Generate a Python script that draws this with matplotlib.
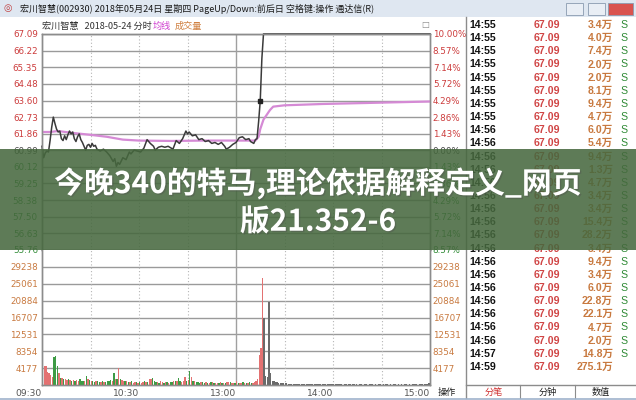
import matplotlib
matplotlib.use("Agg")
import matplotlib.pyplot as plt
from matplotlib.patches import Rectangle
import matplotlib.patheffects as pe

# ---------------- data ----------------
price_ticks = [67.09, 66.22, 65.35, 64.48, 63.60, 62.73, 61.86, 60.99,
               60.12, 59.25, 58.38, 57.50, 56.63, 55.76]
pct_labels = ["10.00%", "8.57%", "7.14%", "5.72%", "4.29%", "2.86%", "1.43%", "0.00%",
              "1.43%", "2.86%", "4.29%", "5.72%", "7.14%", "8.57%"]
prev_close = 60.99
vol_ticks = [4177, 8354, 12531, 16707, 20884, 25061, 29238]
vol_top = 33416
time_ticks = [0, 60, 120, 180, 240]
time_labels = ["09:30", "10:30", "13:00", "14:00", "15:00"]

price_min = [0, 1, 2, 3, 4, 5, 6, 7, 8, 9, 10, 11, 12, 13, 14, 15, 16, 17, 18, 19,
             20, 21, 22, 23, 24, 25, 26, 27, 28, 29, 30, 31, 32, 33, 34, 35, 36, 38,
             40, 42, 44, 45, 46, 47, 48, 50, 52, 54, 55, 57, 59, 61, 63, 65, 67, 69,
             70, 72, 74, 76, 78, 80, 81, 83, 85, 87, 89, 90, 91, 93, 95, 97, 99, 101,
             103, 105, 107, 109, 111, 113, 114, 116, 118, 120, 122, 124, 126, 128,
             129, 131, 132, 133, 134, 135, 136, 137, 240]
price_val = [61.20, 60.60, 60.85, 60.95, 60.90, 61.50, 62.20, 62.73, 62.40, 62.10,
             61.95, 62.00, 61.60, 61.50, 61.75, 61.55, 61.80, 62.00, 61.85, 61.95,
             61.60, 61.45, 61.70, 61.85, 61.55, 61.40, 61.20, 61.00, 61.25, 61.30,
             61.15, 61.35, 61.20, 61.25, 61.05, 61.00, 60.95, 61.05,
             60.90, 60.70, 60.40, 60.55, 60.15, 60.35, 60.25, 60.60, 60.50, 60.90,
             60.80, 61.00, 60.95, 60.90, 61.10, 61.55, 61.35, 61.20,
             61.00, 61.15, 61.20, 61.15, 61.20, 61.10, 61.05, 61.50, 61.35, 61.60,
             62.00, 61.85, 61.95, 61.75, 61.80, 61.55, 61.60, 61.45,
             61.50, 61.35, 61.40, 61.30, 61.40, 61.20, 61.05, 61.15, 61.30, 61.40,
             61.65, 61.70, 61.55, 61.60, 61.45, 61.35, 61.55, 61.60, 62.50, 63.60,
             65.80, 67.09, 67.09]

avg_min = [0, 5, 10, 19, 30, 40, 50, 60, 80, 100, 120, 132, 134, 135, 137, 139,
           141, 143, 150, 174, 200, 240]
avg_val = [61.95, 61.95, 62.00, 61.90, 61.80, 61.70, 61.55, 61.50, 61.48, 61.50,
           61.50, 61.50, 61.70, 62.10, 62.60, 62.85, 63.10, 63.28, 63.35, 63.42,
           63.47, 63.55]

volume = [
    18400, 4700, 4600, 3300, 2900, 2500, 2100, 6900, 7100, 4700, 2900, 1800, 1700, 1500, 1400, 1300, 1500, 1200, 1100, 1300,
    1000, 1200, 900, 1400, 1100, 1000, 900, 2200, 1600, 1200, 1000, 900, 800, 900, 1000, 700, 800, 900, 700, 800,
    900, 1000, 1200, 1100, 2900, 1600, 1500, 4300, 1400, 1200, 1000, 900, 1100, 800, 700, 900, 600, 700, 800, 600,
    700, 600, 800, 900, 700, 800, 1600, 1500, 1700, 1000, 800, 700, 600, 900, 700, 600, 800, 700, 600, 700,
    800, 900, 1100, 1000, 1800, 900, 800, 1100, 2100, 1000, 1200, 3500, 2000, 1100, 900, 800, 700, 600, 800, 700,
    600, 700, 500, 600, 700, 800, 600, 500, 600, 500, 700, 600, 500, 600, 700, 800, 800, 600, 500, 600,
    1000, 500, 600, 500, 700, 600, 500, 600, 700, 500, 600, 800, 900, 1500, 7500, 9200, 26400, 16600, 2200, 2000,
    20500, 2900, 1100, 900, 800, 700, 600, 600, 500, 500, 400, 400, 350, 300, 350, 300, 250, 300, 250, 200,
    250, 200, 200, 250, 200, 150, 200, 250, 200, 150, 200, 200, 150, 200, 150, 200, 250, 150, 200, 150,
    150, 200, 150, 150, 200, 150, 100, 150, 200, 150, 150, 100, 150, 200, 150, 100, 150, 150, 100, 150,
    150, 100, 150, 200, 150, 100, 150, 100, 150, 150, 100, 150, 200, 150, 100, 150, 100, 150, 150, 100,
    150, 100, 150, 100, 150, 150, 100, 150, 100, 150, 200, 150, 100, 150, 150, 200, 150, 200, 250, 400,
]
vol_dir = (
    "grrrrrrgggrgrgrrgrgr"
    "grrgggrgrgrggrggrgrg"
    "gggrgrgrgrrgrgrgrrgr"
    "grrgrgrrgggrgrrgrgrg"
    "grgrggrrrgrgrgrgggrg"
    "grgrgrgrrgrgrgrrgrrg"
    "rgrrgrgrggrrrrrrrkkk"
    "kkkkkkkkkkkkkkkkkkkk"
    "kkkkkkkkkkkkkkkkkkkk"
    "kkkkkkkkkkkkkkkkkkkk"
    "kkkkkkkkkkkkkkkkkkkk"
    "kkkkkkkkkkkkkkkkkkkk"
)

ticks_rows = [
    ("14:55", "67.09", "3.4万", "S"), ("14:55", "67.09", "4.0万", "S"),
    ("14:55", "67.09", "7.4万", "S"), ("14:55", "67.09", "2.0万", "S"),
    ("14:55", "67.09", "2.0万", "S"), ("14:55", "67.09", "8.1万", "S"),
    ("14:55", "67.09", "9.4万", "S"), ("14:55", "67.09", "4.7万", "S"),
    ("14:56", "67.09", "6.0万", "S"), ("14:56", "67.09", "5.4万", "S"),
    ("14:56", "67.09", "9.4万", "S"), ("14:56", "67.09", "1.3万", "S"),
    ("14:56", "67.09", "4.7万", "S"), ("14:56", "67.09", "3.4万", "S"),
    ("14:56", "67.09", "3.4万", "S"), ("14:56", "67.09", "15.4万", "S"),
    ("14:56", "67.09", "28.2万", "S"), ("14:56", "67.09", "3.4万", "S"),
    ("14:56", "67.09", "9.4万", "S"), ("14:56", "67.09", "3.4万", "S"),
    ("14:56", "67.09", "6.0万", "S"), ("14:56", "67.09", "22.8万", "S"),
    ("14:56", "67.09", "22.1万", "S"), ("14:56", "67.09", "4.7万", "S"),
    ("14:56", "67.09", "2.0万", "S"), ("14:57", "67.09", "14.8万", "S"),
    ("14:59", "67.09", "275.1万", ""),
]

window_title = "宏川智慧(002930) 2018年05月24日 星期四 PageUp/Down:前后日 空格键:操作 通达信(R)"
overlay_title = "今晚340的特马,理论依据解释定义_网页\n版21.352-6"

# ---------------- style ----------------
W, H = 636, 400
CJK = ["Noto Sans CJK SC", "DejaVu Sans"]
RED = "#cc3b3b"
GREEN = "#2f8a35"
ORANGE = "#c8793f"
GRID = "#9a9a9a"

plt.rcParams["font.family"] = CJK


def fx(px):
    return px / W


def fy(py):
    return 1 - py / H


fig = plt.figure(figsize=(W / 100, H / 100), dpi=100)
fig.patch.set_facecolor("white")

# window title bar
fig.patches.append(Rectangle((0, fy(17)), 1, 17 / H, transform=fig.transFigure,
                             facecolor="#dfe7f1", edgecolor="none", zorder=1))
fig.text(fx(3), fy(8.5), "◎", fontsize=7, color="#c04040", va="center", ha="left",
         family=["DejaVu Sans"])
fig.text(fx(20), fy(8.5), window_title, fontsize=6.5, color="#1a1a1a", va="center", ha="left")
for x0, w, fc in [(566, 17, "#e9eef5"), (588, 17, "#e9eef5"), (608, 25, "#d9534f")]:
    fig.patches.append(Rectangle((fx(x0), fy(15)), w / W, 12 / H, transform=fig.transFigure,
                                 facecolor=fc, edgecolor="#8a9bb0", lw=0.6, zorder=2))

# chart sub-header
fig.text(fx(42), fy(26), "宏川智慧   2018-05-24 分时", fontsize=6.6, color="#333333",
         va="center", ha="left")
fig.text(fx(153), fy(26), "均线", fontsize=6.6, color="#d040d0", va="center", ha="left")
fig.text(fx(175), fy(26), "成交量", fontsize=6.6, color="#d08040", va="center", ha="left")
fig.text(fx(425), fy(25), "□", fontsize=6, color="#888888", va="center", ha="center",
         family=["DejaVu Sans"])

PX0, PX1 = 42, 430
# price axes
axp = fig.add_axes([fx(PX0), fy(250), (PX1 - PX0) / W, (250 - 34) / H])
axp.set_xlim(0, 240)
axp.set_ylim(price_ticks[-1], price_ticks[0])
axp.set_yticks(price_ticks)
axp.set_yticklabels([f"{v:.2f}" for v in price_ticks])
axp.set_xticks([])
axp.grid(axis="y", color=GRID, lw=1.0)
for m in [30, 60, 90, 150, 180, 210]:
    axp.axvline(m, color="#b5b5b5", lw=0.8, ls=(0, (1, 2)))
axp.axvline(120, color="#a0a0a0", lw=1.0)
axp.plot(avg_min, avg_val, color="#d58ad5", lw=1.6, zorder=3)
axp.plot(price_min, price_val, color="#3a3a3a", lw=1.1, zorder=4, clip_on=False)
axp.plot([135], [63.60], marker="s", ms=2.5, color="#222222", zorder=5)
axp.tick_params(axis="y", length=0, pad=3, labelsize=6.3)
for lab, v in zip(axp.get_yticklabels(), price_ticks):
    lab.set_family(["DejaVu Sans"])
    lab.set_color(RED if v > prev_close else (GREEN if v < prev_close else "#444444"))
axr = axp.twinx()
axr.set_ylim(axp.get_ylim())
axr.set_yticks(price_ticks)
axr.set_yticklabels(pct_labels)
axr.tick_params(axis="y", length=0, pad=2, labelsize=6.3)
for lab, v in zip(axr.get_yticklabels(), price_ticks):
    lab.set_family(["DejaVu Sans"])
    lab.set_color(RED if v > prev_close else (GREEN if v < prev_close else "#444444"))
for a in (axp, axr):
    for s in a.spines.values():
        s.set_color("#8c8c8c")
        s.set_linewidth(1.0)

# volume axes
axv = fig.add_axes([fx(PX0), fy(385), (PX1 - PX0) / W, (385 - 250) / H])
axv.set_xlim(0, 240)
axv.set_ylim(0, vol_top)
cmap = {"r": "#e37272", "g": "#3e9b45", "k": "#6a6a6a"}
axv.bar(range(len(volume)), volume, width=0.85, align="edge",
        color=[cmap[c] for c in vol_dir], zorder=3)
axv.set_yticks(vol_ticks)
axv.set_yticklabels([str(v) for v in vol_ticks])
axv.grid(axis="y", color=GRID, lw=1.0)
for m in [30, 60, 90, 150, 180, 210]:
    axv.axvline(m, color="#b5b5b5", lw=0.8, ls=(0, (1, 2)))
axv.axvline(120, color="#a0a0a0", lw=1.0)
axv.set_xticks(time_ticks)
axv.set_xticklabels(time_labels)
axv.tick_params(axis="x", length=0, pad=3, labelsize=6.6, colors="#555555")
for lab in axv.get_xticklabels():
    lab.set_ha("right")
    lab.set_family(["DejaVu Sans"])
axv.tick_params(axis="y", length=0, pad=3, labelsize=6.3, colors=ORANGE)
for lab in axv.get_yticklabels():
    lab.set_family(["DejaVu Sans"])
axvr = axv.twinx()
axvr.set_ylim(0, vol_top)
axvr.set_yticks(vol_ticks)
axvr.set_yticklabels([str(v) for v in vol_ticks])
axvr.tick_params(axis="y", length=0, pad=2, labelsize=6.3, colors=ORANGE)
for lab in axvr.get_yticklabels():
    lab.set_family(["DejaVu Sans"])
for a in (axv, axvr):
    for s in a.spines.values():
        s.set_color("#8c8c8c")
        s.set_linewidth(1.0)
    a.spines["top"].set_visible(False)

fig.text(fx(447), fy(392), "操作", fontsize=6.6, color="#222222", va="center", ha="center")

# right table panel
fig.add_artist(plt.Line2D([fx(466), fx(466)], [fy(17), fy(398)], transform=fig.transFigure,
                          color="#8c8c8c", lw=1.0))
fig.add_artist(plt.Line2D([fx(466), fx(636)], [fy(385), fy(385)], transform=fig.transFigure,
                          color="#8c8c8c", lw=1.0))
for xs in (520, 575):
    fig.add_artist(plt.Line2D([fx(xs), fx(xs)], [fy(385), fy(398)], transform=fig.transFigure,
                              color="#8c8c8c", lw=0.8))
fig.add_artist(plt.Line2D([fx(0), fx(636)], [fy(398.5), fy(398.5)], transform=fig.transFigure,
                          color="#9fb3cc", lw=1.2))
fig.text(fx(494), fy(392), "分笔", fontsize=6.6, color="#d03030", va="center", ha="center")
fig.text(fx(548), fy(392), "分钟", fontsize=6.6, color="#222222", va="center", ha="center")
fig.text(fx(601), fy(392), "数值", fontsize=6.6, color="#222222", va="center", ha="center")

TF = ["Liberation Sans", "Noto Sans CJK SC"]
for i, (t, p, v, s) in enumerate(ticks_rows):
    yy = fy(25 + i * 13.15)
    fig.text(fx(469), yy, t, fontsize=7.6, fontweight="bold", color="#111111",
             va="center", ha="left", family=TF)
    fig.text(fx(560), yy, p, fontsize=7.6, fontweight="bold", color="#d04545",
             va="center", ha="right", family=TF)
    fig.text(fx(613), yy, v, fontsize=7.6, fontweight="bold", color=ORANGE,
             va="center", ha="right", family=TF)
    if s:
        fig.text(fx(624), yy, s, fontsize=7.6, color=GREEN, va="center", ha="center",
                 family=TF)

# overlay band with title
fig.patches.append(Rectangle((0, fy(250)), 1, (250 - 149) / H, transform=fig.transFigure,
                             facecolor="#46683e", edgecolor="none", alpha=0.87, zorder=20))
fig.text(0.5, fy(202), overlay_title, fontsize=21.5, fontweight="bold", color="white",
         ha="center", va="center", linespacing=1.3, zorder=21, family=CJK,
         path_effects=[pe.withSimplePatchShadow(offset=(1, -1), alpha=0.35)])

fig.savefig("out.png", dpi=100)
